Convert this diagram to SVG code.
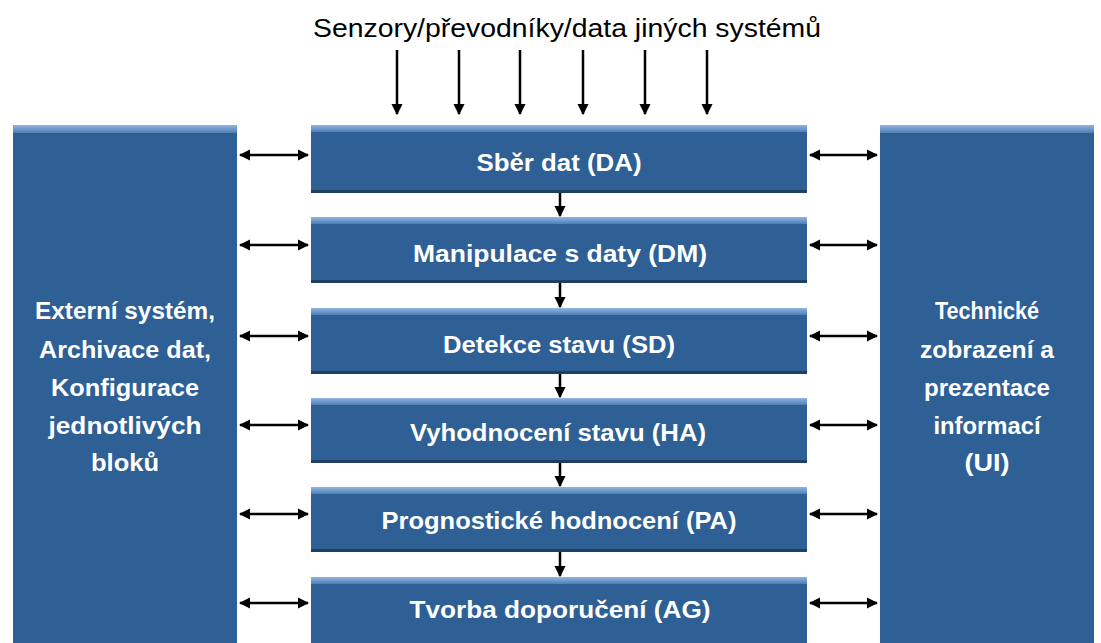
<svg xmlns="http://www.w3.org/2000/svg" width="1101" height="643" viewBox="0 0 1101 643">
<defs>
<linearGradient id="top" x1="0" y1="0" x2="0" y2="1">
<stop offset="0" stop-color="#8fb5e0"/>
<stop offset="1" stop-color="#4f7fb6"/>
</linearGradient>
<marker id="ah" viewBox="0 0 10 10" refX="9" refY="5" markerWidth="4.5" markerHeight="4.5" orient="auto-start-reverse" markerUnits="strokeWidth">
<path d="M0,0 L10,5 L0,10 z" fill="#000"/>
</marker>
<style>
.box{fill:#2e5f95}
.band{fill:url(#top)}
.shadow{fill:#1f3f63}
.t{font-family:"Liberation Sans",Arial,sans-serif;font-weight:bold;fill:#ffffff;text-anchor:middle}
.m{font-size:23px}
.s{font-size:24px}
.c{stroke:#000;stroke-width:2.5;fill:none;marker-end:url(#ah)}
.d{stroke:#000;stroke-width:2.5;fill:none;marker-end:url(#ah);marker-start:url(#ah)}
</style>
</defs>
<rect width="1101" height="643" fill="#ffffff"/>
<text x="567" y="37" font-family="'Liberation Sans',Arial,sans-serif" font-size="26" fill="#000" text-anchor="middle" textLength="508" lengthAdjust="spacingAndGlyphs">Senzory/převodníky/data jiných systémů</text>

<g id="left">
<rect class="box" x="13" y="125" width="224" height="518"/>
<rect class="band" x="13" y="125" width="224" height="8"/>
<text class="t s" x="125" y="319" textLength="180" lengthAdjust="spacingAndGlyphs">Externí systém,</text>
<text class="t s" x="125" y="358" textLength="172" lengthAdjust="spacingAndGlyphs">Archivace dat,</text>
<text class="t s" x="125" y="396" textLength="148" lengthAdjust="spacingAndGlyphs">Konfigurace</text>
<text class="t s" x="125" y="434" textLength="153" lengthAdjust="spacingAndGlyphs">jednotlivých</text>
<text class="t s" x="125" y="471" textLength="68" lengthAdjust="spacingAndGlyphs">bloků</text>
</g>

<g id="right">
<rect class="box" x="880" y="125" width="214" height="518"/>
<rect class="band" x="880" y="125" width="214" height="8"/>
<text class="t s" x="987" y="319" textLength="104" lengthAdjust="spacingAndGlyphs">Technické</text>
<text class="t s" x="987" y="358" textLength="134" lengthAdjust="spacingAndGlyphs">zobrazení a</text>
<text class="t s" x="987" y="396" textLength="126" lengthAdjust="spacingAndGlyphs">prezentace</text>
<text class="t s" x="987" y="434" textLength="107" lengthAdjust="spacingAndGlyphs">informací</text>
<text class="t s" x="987" y="471" textLength="45" lengthAdjust="spacingAndGlyphs">(UI)</text>
</g>

<g id="DA">
<rect class="shadow" x="311" y="127" width="496" height="66"/>
<rect class="box" x="311" y="125" width="496" height="65"/>
<rect class="band" x="311" y="125" width="496" height="7"/>
<text class="t m" x="559" y="171" textLength="165" lengthAdjust="spacingAndGlyphs">Sběr dat (DA)</text>
</g>
<g id="DM">
<rect class="shadow" x="311" y="219" width="496" height="64"/>
<rect class="box" x="311" y="217" width="496" height="63"/>
<rect class="band" x="311" y="217" width="496" height="7"/>
<text class="t m" x="560" y="262" textLength="294" lengthAdjust="spacingAndGlyphs">Manipulace s daty (DM)</text>
</g>
<g id="SD">
<rect class="shadow" x="311" y="310" width="496" height="64"/>
<rect class="box" x="311" y="308" width="496" height="63"/>
<rect class="band" x="311" y="308" width="496" height="7"/>
<text class="t m" x="559" y="353" textLength="232" lengthAdjust="spacingAndGlyphs">Detekce stavu (SD)</text>
</g>
<g id="HA">
<rect class="shadow" x="311" y="400" width="496" height="63"/>
<rect class="box" x="311" y="398" width="496" height="62"/>
<rect class="band" x="311" y="398" width="496" height="7"/>
<text class="t m" x="558" y="441" textLength="296" lengthAdjust="spacingAndGlyphs">Vyhodnocení stavu (HA)</text>
</g>
<g id="PA">
<rect class="shadow" x="311" y="489" width="496" height="63"/>
<rect class="box" x="311" y="487" width="496" height="62"/>
<rect class="band" x="311" y="487" width="496" height="7"/>
<text class="t m" x="559" y="529" textLength="355" lengthAdjust="spacingAndGlyphs">Prognostické hodnocení (PA)</text>
</g>
<g id="AG">
<rect class="box" x="311" y="577" width="496" height="66"/>
<rect class="band" x="311" y="577" width="496" height="7"/>
<text class="t m" x="560" y="618" textLength="301" lengthAdjust="spacingAndGlyphs">Tvorba doporučení (AG)</text>
</g>

<g id="connectors">
<line class="c" x1="397" y1="50" x2="397" y2="114"/>
<line class="c" x1="459" y1="50" x2="459" y2="114"/>
<line class="c" x1="520" y1="50" x2="520" y2="114"/>
<line class="c" x1="583" y1="50" x2="583" y2="114"/>
<line class="c" x1="645" y1="50" x2="645" y2="114"/>
<line class="c" x1="707" y1="50" x2="707" y2="114"/>

<line class="c" x1="560" y1="193" x2="560" y2="216"/>
<line class="c" x1="560" y1="283" x2="560" y2="307"/>
<line class="c" x1="560" y1="374" x2="560" y2="397"/>
<line class="c" x1="560" y1="463" x2="560" y2="486"/>
<line class="c" x1="560" y1="552" x2="560" y2="576"/>

<line class="d" x1="240" y1="155" x2="308" y2="155"/>
<line class="d" x1="240" y1="245" x2="308" y2="245"/>
<line class="d" x1="240" y1="336" x2="308" y2="336"/>
<line class="d" x1="240" y1="425" x2="308" y2="425"/>
<line class="d" x1="240" y1="514" x2="308" y2="514"/>
<line class="d" x1="240" y1="603" x2="308" y2="603"/>

<line class="d" x1="810" y1="155" x2="877" y2="155"/>
<line class="d" x1="810" y1="245" x2="877" y2="245"/>
<line class="d" x1="810" y1="336" x2="877" y2="336"/>
<line class="d" x1="810" y1="425" x2="877" y2="425"/>
<line class="d" x1="810" y1="514" x2="877" y2="514"/>
<line class="d" x1="810" y1="603" x2="877" y2="603"/>
</g>
</svg>
